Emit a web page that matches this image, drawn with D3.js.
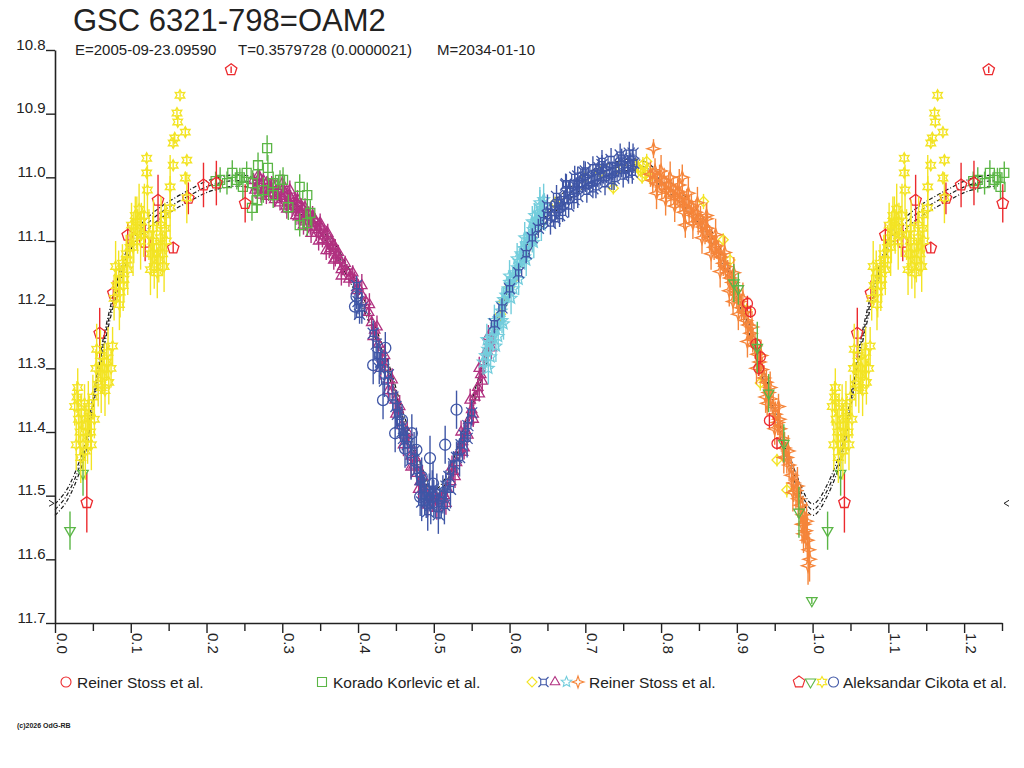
<!DOCTYPE html>
<html><head><meta charset="utf-8">
<script src="https://cdn.jsdelivr.net/npm/d3@7"></script>
<style>
body{margin:0;background:#fff}
svg{display:block}
text{font-family:"Liberation Sans",Arial,Helvetica,sans-serif;fill:#222}
</style>
</head><body>
<svg id="chart" width="1024" height="768"></svg>
<script>
// ---------------- DATA ----------------
const titleText = "GSC 6321-798=OAM2";
const subtitleParts = ["E=2005-09-23.09590", "T=0.3579728 (0.0000021)", "M=2034-01-10"];
const copyrightText = "(c)2026 OdG-RB";
const yTickValues = [10.8, 10.9, 11.0, 11.1, 11.2, 11.3, 11.4, 11.5, 11.6, 11.7];
const xMajorTicks = [0, 0.1, 0.2, 0.3, 0.4, 0.5, 0.6, 0.7, 0.8, 0.9, 1.0, 1.1, 1.2];
const xMinorTicks = [0.05, 0.15, 0.25, 0.35, 0.45, 0.55, 0.65, 0.75, 0.85, 0.95, 1.05, 1.15, 1.25];
const markerLevel = 11.512;

// model light curve (phase, mag) and the three envelope offsets
const modelPhase = [0.00,0.02,0.03,0.04,0.05,0.06,0.07,0.08,0.09,0.10,0.12,0.14,0.16,0.18,0.20,0.22,0.24,0.26,0.28,0.30,0.32,0.34,0.36,0.38,0.40,0.42,0.44,0.46,0.48,0.50,0.52,0.54,0.56,0.58,0.60,0.62,0.64,0.66,0.68,0.70,0.72,0.74,0.76,0.78,0.80,0.82,0.84,0.86,0.88,0.90,0.92,0.94,0.96,0.98,1.00];
const modelMag   = [11.522,11.490,11.462,11.425,11.355,11.285,11.228,11.180,11.140,11.105,11.075,11.055,11.040,11.027,11.015,11.008,11.005,11.008,11.018,11.030,11.045,11.065,11.095,11.135,11.180,11.235,11.300,11.380,11.450,11.500,11.470,11.400,11.320,11.245,11.180,11.125,11.075,11.045,11.025,11.005,10.992,10.985,10.980,10.985,11.005,11.025,11.050,11.080,11.125,11.180,11.250,11.330,11.410,11.480,11.522];
const modelOffsets = [-0.009, 0, 0.009];

// [phase, mag, error]
const stossRedCircles = [
[0.914,11.198,0.012],[0.918,11.211,0.010],[0.925,11.262,0.010],[0.929,11.300,0.012],[0.931,11.282,0.010],[0.943,11.382,0.012],[0.953,11.418,0.010]];

const korlevicSquares = [
[0.212,11.006,0.015],[0.218,11.004,0.020],[0.227,11.009,0.018],[0.234,10.993,0.020],[0.240,11.004,0.015],[0.244,11.000,0.015],[0.248,11.015,0.020],[0.253,10.993,0.018],
[0.260,11.048,0.020],[0.261,11.009,0.020],[0.267,11.036,0.020],[0.268,10.981,0.020],[0.275,11.020,0.020],[0.280,10.954,0.020],[0.281,10.985,0.020],[0.288,11.009,0.018],
[0.288,11.028,0.020],[0.297,11.004,0.015],[0.301,11.004,0.020],[0.308,11.047,0.020],[0.323,11.015,0.020],[0.323,11.075,0.018],[0.333,11.028,0.020],[0.333,11.072,0.020],[0.337,11.056,0.020]];

const stossYellowDiamonds = [
[0.767,10.982,0.010],[0.770,10.985,0.012],[0.773,10.990,0.010],[0.775,11.000,0.010],[0.776,10.980,0.012],[0.779,10.995,0.010],[0.781,10.975,0.012],[0.782,10.988,0.012],[0.785,11.000,0.010],
[0.660,11.040,0.010],[0.700,11.000,0.010],[0.720,10.992,0.010],[0.737,11.017,0.010],[0.745,10.985,0.010],
[0.588,11.215,0.010],[0.592,11.195,0.010],[0.600,11.172,0.010],[0.605,11.160,0.010],
[0.856,11.038,0.012],[0.882,11.098,0.010],[0.891,11.130,0.012],[0.913,11.208,0.010],[0.931,11.323,0.012],[0.953,11.444,0.010],[0.966,11.491,0.012]];

const stossMagentaTriangles = [
[0.262,11.005,0.012],[0.264,11.020,0.012],[0.266,11.015,0.010],[0.268,10.998,0.012],[0.270,11.000,0.012],[0.272,11.028,0.012],[0.273,11.012,0.010],[0.275,11.005,0.012],[0.277,11.020,0.012],[0.279,11.030,0.012],
[0.280,11.008,0.010],[0.282,11.025,0.012],[0.284,11.018,0.012],[0.286,11.010,0.012],[0.288,11.025,0.012],[0.290,11.035,0.012],[0.291,11.012,0.010],[0.293,11.028,0.012],[0.295,11.022,0.012],[0.297,11.040,0.012],
[0.299,11.030,0.012],[0.301,11.018,0.012],[0.303,11.025,0.012],[0.305,11.045,0.012],[0.307,11.038,0.012],[0.309,11.028,0.012],[0.311,11.032,0.012],[0.313,11.050,0.012],[0.315,11.045,0.012],[0.317,11.035,0.012],
[0.319,11.040,0.012],[0.321,11.062,0.012],[0.323,11.055,0.012],[0.325,11.045,0.012],[0.327,11.050,0.012],[0.329,11.070,0.012],[0.331,11.062,0.012],[0.333,11.055,0.012],[0.335,11.058,0.012],[0.337,11.078,0.012],
[0.339,11.072,0.012],[0.341,11.065,0.012],[0.343,11.068,0.012],[0.345,11.088,0.012],[0.347,11.082,0.012],[0.349,11.075,0.012],[0.351,11.078,0.012],[0.353,11.098,0.012],[0.355,11.092,0.012],[0.358,11.088,0.012],
[0.360,11.100,0.012],[0.362,11.115,0.012],[0.364,11.112,0.012],[0.366,11.102,0.012],[0.368,11.108,0.012],[0.370,11.128,0.012],[0.372,11.122,0.012],[0.374,11.118,0.012],[0.376,11.130,0.012],[0.378,11.145,0.012],
[0.380,11.140,0.012],[0.383,11.135,0.012],[0.385,11.148,0.012],[0.388,11.160,0.012],[0.390,11.155,0.012],[0.393,11.150,0.012],[0.395,11.160,0.012],[0.398,11.178,0.012],[0.400,11.172,0.012],
[0.405,11.185,0.012],[0.410,11.195,0.012],[0.414,11.212,0.012],[0.418,11.228,0.012],[0.422,11.240,0.012],[0.427,11.262,0.012],[0.432,11.285,0.012],[0.436,11.300,0.012],[0.440,11.318,0.012],[0.445,11.335,0.012],
[0.449,11.350,0.012],[0.453,11.365,0.012],[0.458,11.390,0.012],[0.462,11.405,0.012],[0.466,11.420,0.012],[0.470,11.438,0.012],[0.474,11.452,0.012],[0.478,11.465,0.012],[0.482,11.478,0.012],[0.486,11.488,0.012],
[0.490,11.496,0.012],[0.494,11.502,0.012],[0.498,11.505,0.012],[0.502,11.500,0.012],[0.506,11.508,0.012],[0.510,11.505,0.012],[0.514,11.500,0.012],[0.518,11.490,0.012],[0.522,11.478,0.012],[0.526,11.462,0.012],
[0.530,11.448,0.012],[0.534,11.430,0.012],[0.538,11.415,0.012],[0.542,11.398,0.012],[0.546,11.382,0.012],[0.550,11.365,0.012],[0.554,11.345,0.012],[0.558,11.330,0.012],[0.562,11.310,0.012],[0.566,11.290,0.012],
[0.570,11.272,0.012],[0.574,11.258,0.012],[0.578,11.240,0.012],[0.538,11.432,0.012],[0.545,11.405,0.012],[0.552,11.380,0.012],[0.560,11.340,0.012],
[0.300,11.010,0.015],[0.310,11.020,0.015],[0.320,11.035,0.015],[0.330,11.048,0.015],[0.340,11.060,0.015],[0.350,11.072,0.015],[0.360,11.088,0.015],[0.370,11.112,0.015],
[0.306,11.050,0.015],[0.318,11.060,0.015],[0.328,11.075,0.015],[0.338,11.088,0.015],[0.348,11.100,0.015],[0.358,11.115,0.015],[0.368,11.130,0.015],[0.378,11.155,0.015],
[0.405,11.170,0.018],[0.415,11.200,0.018],[0.425,11.235,0.018],[0.435,11.280,0.018],[0.445,11.318,0.018],[0.455,11.360,0.018],[0.465,11.400,0.018],[0.475,11.440,0.018],[0.485,11.470,0.018],
[0.420,11.250,0.018],[0.430,11.300,0.018],[0.440,11.335,0.018],[0.450,11.372,0.018],[0.460,11.420,0.018],[0.470,11.455,0.018],[0.480,11.490,0.018],[0.492,11.515,0.018],[0.504,11.520,0.018],
[0.516,11.512,0.018],[0.528,11.470,0.018],[0.540,11.425,0.018],[0.552,11.372,0.018],[0.564,11.320,0.018],[0.576,11.268,0.018],[0.524,11.455,0.018],[0.536,11.400,0.018],[0.548,11.350,0.018],[0.560,11.300,0.018],[0.572,11.250,0.018]];

const stossCyanStars = [
[0.565,11.290,0.020],[0.568,11.280,0.020],[0.571,11.270,0.020],[0.574,11.260,0.020],[0.575,11.282,0.020],[0.577,11.250,0.020],[0.580,11.240,0.020],[0.583,11.232,0.020],[0.585,11.250,0.020],[0.586,11.222,0.020],
[0.589,11.210,0.020],[0.592,11.192,0.020],[0.595,11.185,0.020],[0.598,11.175,0.020],[0.600,11.165,0.020],[0.601,11.168,0.020],[0.604,11.160,0.020],[0.607,11.150,0.020],[0.610,11.142,0.020],[0.613,11.132,0.020],
[0.615,11.120,0.020],[0.616,11.122,0.020],[0.619,11.112,0.020],[0.622,11.105,0.020],[0.625,11.098,0.020],[0.628,11.090,0.020],[0.631,11.082,0.020],[0.633,11.060,0.020],[0.634,11.072,0.020],[0.637,11.066,0.020],
[0.640,11.058,0.020],[0.640,11.045,0.025],[0.643,11.050,0.020],[0.645,11.035,0.025],[0.646,11.045,0.020],[0.590,11.225,0.020],[0.605,11.175,0.020],[0.620,11.125,0.020],[0.630,11.098,0.020],
[0.570,11.255,0.025],[0.580,11.225,0.025],[0.590,11.198,0.025],[0.600,11.155,0.025],[0.610,11.128,0.025],[0.620,11.095,0.025],[0.630,11.070,0.025],[0.640,11.040,0.025],
[0.572,11.300,0.025],[0.582,11.265,0.025],[0.592,11.230,0.025],[0.602,11.190,0.025],[0.612,11.160,0.025],[0.622,11.130,0.025],[0.632,11.102,0.025],[0.642,11.075,0.025]];

const stossBlueSquares = [
[0.398,11.170,0.015],[0.400,11.195,0.020],[0.402,11.215,0.015],[0.405,11.205,0.025],[0.420,11.245,0.020],[0.424,11.262,0.025],[0.426,11.280,0.020],[0.428,11.300,0.025],[0.430,11.290,0.020],[0.435,11.320,0.025],[0.440,11.310,0.025],
[0.446,11.345,0.020],[0.450,11.360,0.025],[0.452,11.372,0.020],[0.455,11.385,0.025],[0.458,11.400,0.020],[0.460,11.410,0.025],[0.465,11.420,0.030],[0.470,11.445,0.030],[0.474,11.430,0.030],
[0.478,11.460,0.025],[0.482,11.475,0.030],[0.484,11.510,0.030],[0.486,11.490,0.025],[0.488,11.500,0.030],[0.490,11.510,0.025],[0.492,11.525,0.030],[0.494,11.495,0.030],[0.496,11.515,0.030],[0.498,11.490,0.030],[0.500,11.505,0.030],
[0.504,11.495,0.030],[0.506,11.530,0.030],[0.508,11.512,0.025],[0.512,11.498,0.030],[0.514,11.515,0.030],[0.516,11.485,0.025],[0.520,11.470,0.025],[0.522,11.490,0.030],[0.526,11.450,0.020],[0.530,11.440,0.025],[0.534,11.440,0.030],[0.536,11.420,0.020],[0.540,11.405,0.020],[0.544,11.410,0.030],[0.545,11.390,0.020],[0.550,11.370,0.020],
[0.580,11.230,0.015],[0.590,11.205,0.015],[0.600,11.175,0.015],[0.612,11.150,0.015],[0.622,11.120,0.015],[0.630,11.095,0.015],[0.638,11.080,0.015],
[0.645,11.068,0.015],[0.650,11.060,0.015],[0.655,11.055,0.015],[0.660,11.050,0.015],[0.660,11.065,0.015],[0.664,11.045,0.015],[0.668,11.040,0.015],[0.670,11.055,0.015],[0.672,11.035,0.015],[0.675,11.010,0.015],
[0.676,11.028,0.015],[0.680,11.022,0.015],[0.684,11.020,0.015],[0.685,11.035,0.015],[0.688,11.015,0.015],[0.690,10.998,0.015],[0.692,11.012,0.015],[0.696,11.010,0.015],[0.700,11.008,0.015],[0.700,10.990,0.015],
[0.704,11.005,0.015],[0.708,11.003,0.015],[0.710,11.018,0.015],[0.712,11.000,0.015],[0.716,11.000,0.015],[0.718,10.985,0.015],[0.720,10.998,0.015],[0.722,10.980,0.015],[0.724,10.995,0.015],[0.728,10.994,0.015],
[0.732,10.990,0.015],[0.735,11.005,0.015],[0.736,10.990,0.015],[0.740,10.986,0.015],[0.744,10.985,0.015],[0.748,10.985,0.015],[0.748,10.970,0.015],[0.752,10.980,0.015],[0.756,10.980,0.015],[0.757,10.995,0.015],
[0.760,10.977,0.015],[0.763,10.962,0.015],[0.764,10.978,0.015],
[0.650,11.045,0.018],[0.662,11.030,0.018],[0.674,11.012,0.018],[0.686,11.000,0.018],[0.698,10.992,0.018],[0.710,10.985,0.018],[0.722,10.975,0.018],[0.734,10.972,0.018],[0.746,10.965,0.018],[0.758,10.962,0.018],
[0.654,11.072,0.018],[0.666,11.060,0.018],[0.678,11.045,0.018],[0.690,11.030,0.018],[0.702,11.022,0.018],[0.714,11.015,0.018],[0.726,11.010,0.018],[0.738,11.002,0.018],[0.750,10.998,0.018],[0.762,10.992,0.018]];

const stossOrangeStars = [
[0.786,10.995,0.020],[0.789,11.005,0.020],[0.790,10.955,0.015],[0.792,10.990,0.020],[0.795,11.010,0.020],[0.798,11.000,0.020],[0.801,11.015,0.020],[0.804,11.005,0.020],[0.807,11.020,0.020],[0.810,11.012,0.020],
[0.813,11.025,0.020],[0.816,11.018,0.020],[0.819,11.030,0.020],[0.822,11.022,0.020],[0.825,11.035,0.020],[0.828,11.000,0.020],[0.828,11.030,0.020],[0.831,11.045,0.020],[0.832,11.075,0.020],[0.834,11.038,0.020],
[0.837,11.052,0.020],[0.840,11.045,0.020],[0.843,11.060,0.020],[0.846,11.055,0.020],[0.849,11.070,0.020],[0.852,11.065,0.020],[0.855,11.078,0.020],[0.858,11.085,0.020],[0.860,11.060,0.020],[0.861,11.080,0.020],
[0.864,11.095,0.020],[0.867,11.100,0.020],[0.870,11.110,0.020],[0.873,11.108,0.020],[0.876,11.120,0.020],[0.879,11.125,0.020],[0.882,11.135,0.020],[0.885,11.140,0.020],[0.888,11.150,0.020],[0.891,11.158,0.020],
[0.894,11.165,0.020],[0.895,11.195,0.020],[0.897,11.178,0.020],[0.900,11.185,0.020],[0.903,11.195,0.020],[0.906,11.205,0.020],[0.909,11.212,0.020],[0.912,11.225,0.020],[0.915,11.232,0.020],[0.918,11.245,0.020],
[0.921,11.255,0.020],[0.924,11.265,0.020],[0.927,11.278,0.020],[0.930,11.290,0.020],[0.933,11.302,0.020],[0.936,11.315,0.020],[0.939,11.322,0.020],[0.940,11.355,0.020],[0.942,11.338,0.020],[0.945,11.348,0.020],
[0.948,11.360,0.020],[0.951,11.372,0.020],[0.954,11.385,0.020],[0.955,11.360,0.020],[0.957,11.395,0.020],[0.960,11.410,0.025],[0.963,11.425,0.025],[0.966,11.440,0.025],[0.969,11.452,0.025],[0.972,11.468,0.025],
[0.975,11.480,0.030],[0.978,11.492,0.030],[0.981,11.505,0.030],[0.984,11.515,0.030],[0.987,11.530,0.030],[0.988,11.560,0.030],[0.989,11.545,0.030],[0.991,11.555,0.030],[0.992,11.540,0.030],[0.993,11.570,0.035],
[0.995,11.585,0.030],[0.996,11.600,0.035],
[0.800,10.990,0.025],[0.812,11.000,0.025],[0.824,11.012,0.025],[0.836,11.025,0.025],[0.848,11.040,0.025],[0.860,11.065,0.025],[0.872,11.090,0.025],[0.884,11.118,0.025],[0.896,11.150,0.025],[0.908,11.190,0.025],
[0.920,11.235,0.025],[0.932,11.280,0.025],[0.944,11.330,0.025],[0.956,11.380,0.025],[0.968,11.430,0.025],[0.980,11.485,0.030],
[0.794,11.025,0.025],[0.806,11.035,0.025],[0.818,11.045,0.025],[0.830,11.055,0.025],[0.842,11.072,0.025],[0.854,11.095,0.025],[0.866,11.120,0.025],[0.878,11.148,0.025],[0.890,11.178,0.025],[0.902,11.215,0.025],
[0.914,11.258,0.025],[0.926,11.300,0.025],[0.938,11.345,0.025],[0.950,11.395,0.025],[0.962,11.440,0.025],[0.974,11.495,0.030],[0.986,11.545,0.030],[0.994,11.610,0.030]];

const cikotaRedPentagons = [
[0.042,11.511,0.047],[0.059,11.245,0.040],[0.077,11.182,0.020],[0.096,11.091,0.020],[0.119,11.102,0.030],[0.136,11.036,0.040],[0.156,11.111,0.008],
[0.176,11.033,0.025],[0.196,11.012,0.035],[0.213,11.009,0.035],[0.2325,10.831,0.005],[0.251,11.041,0.030]];

const cikotaGreenTriangles = [
[0.0198,11.555,0.030],[0.037,11.465,0.035],[0.896,11.166,0.030],[0.902,11.175,0.025],[0.927,11.267,0.040],[0.942,11.339,0.030],[0.962,11.418,0.030],[0.982,11.526,0.040],[0.999,11.665,0.005]];

const cikotaYellowStars = [
[0.026,11.360,0.030],[0.028,11.420,0.040],[0.029,11.345,0.025],[0.030,11.330,0.030],[0.031,11.380,0.040],[0.033,11.400,0.035],[0.034,11.440,0.040],[0.035,11.370,0.030],[0.037,11.420,0.040],[0.039,11.355,0.030],
[0.040,11.430,0.045],[0.041,11.390,0.035],[0.043,11.410,0.040],[0.044,11.360,0.040],[0.045,11.375,0.030],[0.047,11.400,0.030],[0.048,11.420,0.040],[0.050,11.345,0.035],[0.052,11.380,0.030],
[0.054,11.300,0.030],[0.055,11.270,0.040],[0.057,11.325,0.035],[0.060,11.280,0.040],[0.061,11.330,0.040],[0.063,11.310,0.030],[0.065,11.300,0.040],[0.066,11.335,0.040],[0.068,11.290,0.030],[0.070,11.275,0.040],
[0.071,11.322,0.035],[0.074,11.300,0.030],[0.076,11.265,0.030],
[0.078,11.190,0.035],[0.080,11.140,0.040],[0.081,11.170,0.030],[0.084,11.150,0.035],[0.085,11.200,0.040],[0.086,11.180,0.040],[0.089,11.135,0.030],[0.090,11.170,0.040],[0.091,11.160,0.035],[0.094,11.120,0.030],
[0.095,11.130,0.040],[0.096,11.145,0.040],[0.099,11.110,0.035],
[0.101,11.075,0.035],[0.103,11.110,0.045],[0.104,11.095,0.040],[0.106,11.060,0.030],[0.108,11.070,0.040],[0.109,11.085,0.035],[0.111,11.050,0.040],[0.113,11.100,0.045],[0.114,11.070,0.030],[0.117,11.090,0.035],
[0.118,11.060,0.050],[0.122,11.020,0.040],
[0.124,11.090,0.040],[0.126,11.145,0.040],[0.127,11.120,0.035],[0.129,11.100,0.040],[0.130,11.080,0.045],[0.131,11.140,0.035],[0.134,11.110,0.040],[0.135,11.150,0.040],[0.137,11.130,0.035],[0.139,11.095,0.040],
[0.140,11.075,0.045],[0.142,11.120,0.035],[0.144,11.140,0.040],[0.145,11.080,0.040],[0.147,11.100,0.045],
[0.121,10.970,0.008],[0.121,10.993,0.008],[0.145,11.059,0.010],[0.152,11.015,0.050],[0.152,11.048,0.050],[0.156,10.946,0.008],[0.156,10.981,0.008],[0.158,10.938,0.008],[0.161,10.899,0.008],[0.162,10.913,0.008],
[0.165,10.871,0.008],[0.172,10.929,0.008],[0.172,11.001,0.010],[0.174,10.973,0.008],[0.174,11.032,0.040]];

const cikotaBlueCircles = [
[0.396,11.203,0.020],[0.398,11.187,0.020],[0.420,11.295,0.030],[0.433,11.350,0.030],[0.436,11.268,0.025],[0.449,11.402,0.030],[0.458,11.381,0.025],[0.462,11.426,0.030],
[0.471,11.402,0.030],[0.477,11.428,0.035],[0.482,11.502,0.030],[0.484,11.470,0.030],[0.495,11.441,0.035],[0.499,11.481,0.035],[0.515,11.420,0.030],[0.530,11.365,0.030]];

// ---------------- CHART ----------------
const svg = d3.select("#chart");
const x = d3.scaleLinear().domain([0, 1.25]).range([55, 1002]);
const y = d3.scaleLinear().domain([10.8, 11.7]).range([50, 623]);
const AX = "#222";

function poly(n, rOut, rIn, rot) {
  const pts = [];
  const k = rIn ? 2 * n : n;
  for (let i = 0; i < k; i++) {
    const r = rIn && (i % 2) ? rIn : rOut;
    const a = rot + i * Math.PI * 2 / k;
    pts.push([r * Math.sin(a), -r * Math.cos(a)]);
  }
  return "M" + pts.map(p => p[0].toFixed(2) + "," + p[1].toFixed(2)).join("L") + "Z";
}
const shapes = {
  circle: r => `M${r},0A${r},${r} 0 1,1 ${-r},0A${r},${r} 0 1,1 ${r},0Z`,
  square: r => `M${-r},${-r}H${r}V${r}H${-r}Z`,
  diamond: r => `M0,${-r}L${r},0L0,${r}L${-r},0Z`,
  triUp: r => poly(3, r, 0, 0),
  triDown: r => poly(3, r, 0, Math.PI),
  star5: r => poly(5, r, r * 0.45, 0),
  star4: r => poly(4, r, r * 0.35, 0),
  star6: r => poly(6, r, r * 0.55, 0),
  pentagon: r => poly(5, r, 0, 0),
  curren: r => { const s = r * 0.55; return `M${-s},${-s}H${s}V${s}H${-s}Z M${-s},${-s}L${-r},${-r} M${s},${-s}L${r},${-r} M${s},${s}L${r},${r} M${-s},${s}L${-r},${r}`; }
};

const C = {red:"#ec2a2e", green:"#5bb646", yellow:"#f3e424", blue:"#3f56a6", magenta:"#b13180", cyan:"#73cddc", orange:"#f5853a"};

const series = [
  {data: stossYellowDiamonds, color: C.yellow, shape: "diamond", r: 5, copy: false},
  {data: stossMagentaTriangles, color: C.magenta, shape: "triUp", r: 6, copy: false},
  {data: stossCyanStars, color: C.cyan, shape: "star5", r: 6, copy: false},
  {data: stossBlueSquares, color: C.blue, shape: "curren", r: 5.5, copy: false},
  {data: stossOrangeStars, color: C.orange, shape: "star4", r: 6.5, copy: false},
  {data: stossRedCircles, color: C.red, shape: "circle", r: 5, copy: false},
  {data: korlevicSquares, color: C.green, shape: "square", r: 4.5, copy: true},
  {data: cikotaRedPentagons, color: C.red, shape: "pentagon", r: 6, copy: true},
  {data: cikotaGreenTriangles, color: C.green, shape: "triDown", r: 6, copy: true},
  {data: cikotaYellowStars, color: C.yellow, shape: "star6", r: 5.5, copy: true},
  {data: cikotaBlueCircles, color: C.blue, shape: "circle", r: 5.5, copy: true}
];

// ---- model curves ----
const modelPts = modelPhase.map((p, i) => [p, modelMag[i]]);
const modelFull = modelPts.concat(modelPts.filter(d => d[0] > 0 && d[0] <= 0.25).map(d => [d[0] + 1, d[1]]));
const line = d3.line().x(d => x(d[0])).y(d => y(d[1])).curve(d3.curveMonotoneX);
svg.append("g").selectAll("path").data(modelOffsets).join("path")
  .attr("d", o => line(modelFull.map(d => [d[0], d[1] + o])))
  .attr("fill", "none").attr("stroke", "#1a1a1a").attr("stroke-width", 1.2)
  .attr("stroke-dasharray", "4,2,1,2");

// ---- data ----
series.forEach(s => {
  let pts = s.data.slice();
  if (s.copy) pts = pts.concat(s.data.filter(d => d[0] + 1 <= 1.256).map(d => [d[0] + 1, d[1], d[2]]));
  const g = svg.append("g");
  g.selectAll("line").data(pts).join("line")
    .attr("x1", d => x(d[0])).attr("x2", d => x(d[0]))
    .attr("y1", d => y(d[1] - d[2])).attr("y2", d => y(d[1] + d[2]))
    .attr("stroke", s.color).attr("stroke-width", 1.4);
  g.selectAll("path").data(pts).join("path")
    .attr("transform", d => `translate(${x(d[0])},${y(d[1])})`)
    .attr("d", shapes[s.shape](s.r))
    .attr("fill", "none").attr("stroke", s.color).attr("stroke-width", 1.3);
});

// ---- axes ----
const yAxis = d3.axisLeft(y).tickValues(yTickValues).tickSize(9).tickSizeOuter(0).tickFormat(d3.format(".1f"));
const gy = svg.append("g").attr("transform", "translate(55,0)").call(yAxis);
gy.select(".domain").attr("stroke", AX).attr("stroke-width", 1.6);
gy.selectAll(".tick line").attr("stroke", AX).attr("stroke-width", 1.4);
gy.selectAll(".tick text").attr("x", -9.5).attr("dy", "-1").attr("text-anchor", "end")
  .style("font-size", "15px").style("font-family", "'Liberation Sans',Arial,sans-serif").attr("fill", "#222");

const allX = xMajorTicks.concat(xMinorTicks).sort((a, b) => a - b);
const xAxis = d3.axisBottom(x).tickValues(allX).tickSize(10).tickSizeOuter(0)
  .tickFormat(d => xMajorTicks.some(t => Math.abs(t - d) < 1e-9) ? d3.format(".1f")(d) : "");
const gx = svg.append("g").attr("transform", "translate(0,623)").call(xAxis);
gx.select(".domain").attr("stroke", AX).attr("stroke-width", 1.6);
gx.selectAll(".tick line").attr("stroke", AX).attr("stroke-width", 1.4)
  .attr("y2", d => xMajorTicks.some(t => Math.abs(t - d) < 1e-9) ? 10 : 8);
gx.selectAll(".tick text").attr("transform", "rotate(90)").attr("x", 10).attr("y", -1).attr("dy", 0)
  .attr("text-anchor", "start").style("font-size", "15px").style("font-family", "'Liberation Sans',Arial,sans-serif").attr("fill", "#222");

// level markers
const ym = y(markerLevel);
svg.append("path").attr("d", `M${x(0) - 6},${ym - 3}L${x(0) - 1},${ym}L${x(0) - 6},${ym + 3}`).attr("fill", "none").attr("stroke", AX);
svg.append("path").attr("d", `M${x(1.25) + 7},${ym - 3}L${x(1.25) + 2},${ym}L${x(1.25) + 7},${ym + 3}`).attr("fill", "none").attr("stroke", AX);

// ---- titles ----
svg.append("text").attr("x", 73).attr("y", 31).style("font-size", "31px").text(titleText);
const subX = [75, 238, 437];
svg.selectAll(".sub").data(subtitleParts).join("text").attr("class", "sub")
  .attr("x", (d, i) => subX[i]).attr("y", 55).style("font-size", "15px").text(d => d);

// ---- legend ----
const legend = [
  {label: "Reiner Stoss et al.", marks: [["circle", C.red, 5]], mx: 66, tx: 77},
  {label: "Korado Korlevic et al.", marks: [["square", C.green, 4.5]], mx: 322, tx: 333},
  {label: "Reiner Stoss et al.", marks: [["diamond", C.yellow, 5], ["curren", C.blue, 5], ["triUp", C.magenta, 5.5], ["star5", C.cyan, 5.5], ["star4", C.orange, 6]], mx: 532, tx: 589},
  {label: "Aleksandar Cikota et al.", marks: [["pentagon", C.red, 6], ["triDown", C.green, 6], ["star6", C.yellow, 5.5], ["circle", C.blue, 5]], mx: 799, tx: 843}
];
const lg = svg.append("g");
legend.forEach(item => {
  item.marks.forEach((m, i) => {
    lg.append("path").attr("transform", `translate(${item.mx + i * 11.5},682)`)
      .attr("d", shapes[m[0]](m[2])).attr("fill", "none").attr("stroke", m[1]).attr("stroke-width", 1.1);
  });
  lg.append("text").attr("x", item.tx).attr("y", 688).style("font-size", "15.5px").text(item.label);
});

svg.append("text").attr("x", 17).attr("y", 728).style("font-size", "7px").style("font-weight", "bold").text(copyrightText);
</script>
</body></html>
